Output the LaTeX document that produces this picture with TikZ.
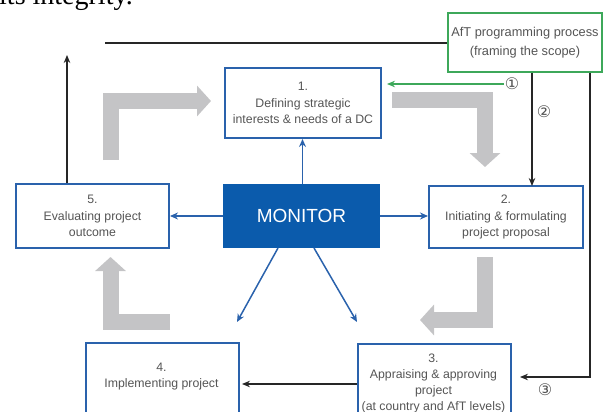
\documentclass[tikz,border=0pt]{standalone}
\usepackage{fontspec}
\setmainfont{Liberation Sans}
\newfontfamily\seriffont{Liberation Serif}
\newfontfamily\symfont{DejaVu Sans}
\usetikzlibrary{arrows.meta}
\definecolor{boxblue}{HTML}{2A62AC}
\definecolor{monblue}{HTML}{0B5BAC}
\definecolor{aftgreen}{HTML}{3DA85A}
\definecolor{flowgray}{HTML}{C4C4C6}
\definecolor{txtgray}{HTML}{555555}
\definecolor{linedark}{HTML}{262626}
\begin{document}
\begin{tikzpicture}[x=1pt,y=-1pt,
  stepbox/.style={draw=boxblue, line width=2pt, fill=white, inner sep=0pt, text=txtgray,
    font=\fontsize{12.3}{16.5}\selectfont, align=center, anchor=north west},
  steptext/.style={inner sep=0pt, text=txtgray, font=\fontsize{12.3}{16}\selectfont, align=center},
  monbox/.style={fill=monblue, draw=monblue, line width=1pt, text=white, inner sep=0pt,
    font=\fontsize{19}{22}\selectfont, anchor=north west},
  aftbox/.style={draw=aftgreen, line width=2pt, fill=white, inner sep=0pt, text=txtgray,
    font=\fontsize{12.8}{19}\selectfont, align=center, anchor=north west},
  bluearrow/.style={draw=boxblue, line width=1.5pt, -{Stealth[length=8pt,width=7pt]}},
  darkline/.style={draw=linedark, line width=1.6pt},
  darkarrow/.style={draw=linedark, line width=1.5pt, -{Stealth[length=8pt,width=6.5pt]}},
  greenarrow/.style={draw=aftgreen, line width=1.5pt, -{Stealth[length=8pt,width=6.5pt]}},
  grayflow/.style={draw=flowgray, line width=16pt, line join=miter, -{Triangle[width=30pt,length=14pt]}},
  circnum/.style={inner sep=0pt, text=linedark!80, font=\symfont\fontsize{16}{16}\selectfont}
]
\useasboundingbox (0,0) rectangle (603,412);
\clip (0,0) rectangle (603,412);

% partial text at top
\node[anchor=base west, inner sep=0pt, font=\seriffont\fontsize{28}{30}\selectfont] (toptext) at (-1,5) {its integrity.};

% gray flow arrows
\draw[grayflow] (111,160) -- (111,101) -- (211,101);
\draw[grayflow] (392,100) -- (485,100) -- (485,167);
\draw[grayflow] (485,257) -- (485,320) -- (420,320);
\draw[grayflow] (170,322) -- (110.5,322) -- (110.5,257);

% boxes
\node[aftbox, minimum width=154pt, minimum height=59pt] (aft) at (447,12) {AfT programming process\\(framing the scope)};
\node[stepbox, minimum width=156pt, minimum height=70pt] (b1) at (224,67) {1.\\Defining strategic\\interests \& needs of a DC};
\node[stepbox, minimum width=154pt, minimum height=62pt] (b2) at (428,185) {2.\\Initiating \& formulating\\project proposal};
\node[monbox, minimum width=156pt, minimum height=63pt] (mon) at (223,184) {MONITOR};
\node[stepbox, minimum width=153pt, minimum height=64pt] (b5) at (15,183) {5.\\Evaluating project\\outcome};
\node[stepbox, minimum width=153pt, minimum height=80pt] (b4) at (85,342) {};
\node[steptext] (t4) at (161.5,377) {4.\\Implementing project};
\node[stepbox, minimum width=153pt, minimum height=80pt] (b3) at (357,343) {};
\node[steptext] (t3) at (433.5,383) {3.\\Appraising \& approving\\project\\(at country and AfT levels)};

% blue arrows from monitor
\draw[bluearrow] ([xshift=1pt]mon.north) -- ([xshift=1pt]mon.north |- b1.south);
\draw[bluearrow] (mon.west) -- (mon.west -| b5.east);
\draw[bluearrow] (mon.east) -- (mon.east -| b2.west);
\coordinate (d1) at (237,322);
\coordinate (d2) at (357,322);
\draw[bluearrow] ([xshift=55pt]mon.south west) -- (d1);
\draw[bluearrow] ([xshift=-66pt]mon.south east) -- (d2);

% dark lines
\coordinate (tl) at (105,43);
\draw[darkline] (tl) -- (tl -| aft.west);
\coordinate (la) at (67,55);
\draw[darkarrow] (b5.north -| la) -- (la);
\draw[darkarrow] ([xshift=7pt]aft.south) -- ([xshift=7pt,yshift=-1pt]aft.south |- b2.north);
\coordinate (r3) at (520,377);
\draw[darkarrow] ([xshift=65pt]aft.south) |- (r3);
\draw[darkarrow] (b3.west) -- ([xshift=2pt]b3.west -| b4.east);

% green arrow
\coordinate (g1) at (504,84);
\draw[greenarrow] (g1) -- ([xshift=5pt]g1 -| b1.east);

% circled numbers
\node[circnum] (c1) at (512,84) {①};
\node[circnum] (c2) at (544,112) {②};
\node[circnum] (c3) at (545,390) {③};
\end{tikzpicture}
\end{document}
